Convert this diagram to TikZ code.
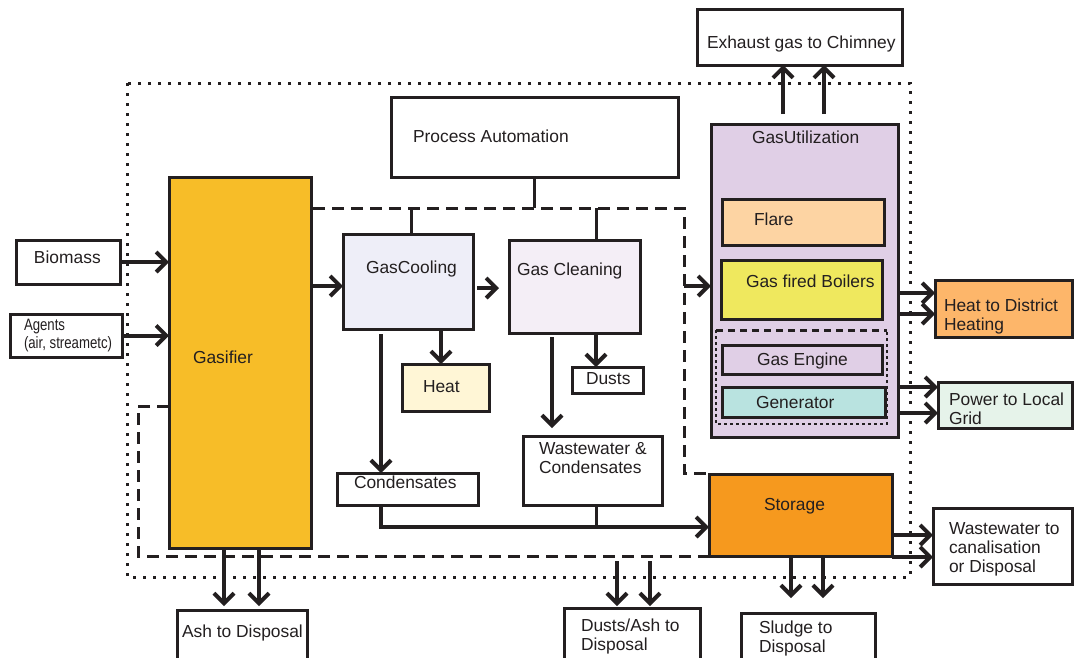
\documentclass[tikz,border=0pt]{standalone}
\usepackage{fontspec}
\setmainfont{Liberation Sans}
\newfontfamily\condfont[FakeStretch=0.8]{Liberation Sans}
\usetikzlibrary{arrows.meta,fit,calc}
\definecolor{ink}{HTML}{231F20}
\definecolor{cGasifier}{HTML}{F7BD28}
\definecolor{cCool}{HTML}{EEEEF8}
\definecolor{cClean}{HTML}{F4EEF6}
\definecolor{cHeat}{HTML}{FFF6D6}
\definecolor{cUtil}{HTML}{E0CFE6}
\definecolor{cFlare}{HTML}{FDD4A3}
\definecolor{cBoil}{HTML}{EFE85E}
\definecolor{cGen}{HTML}{B9E3E0}
\definecolor{cDH}{HTML}{FDB66A}
\definecolor{cPow}{HTML}{E6F3EA}
\definecolor{cStor}{HTML}{F6991E}
\begin{document}
\begin{tikzpicture}[x=1pt,y=-1pt,
  box/.style={draw=ink, line width=3pt, inner sep=0pt, outer sep=0pt},
  txt/.style={anchor=base west, inner sep=0pt, outer sep=0pt, text=ink, font=\fontsize{17.4}{19}\selectfont, align=left},
  arr/.style={draw=ink, line width=4pt, -{Straight Barb[length=10pt,width=20pt]}},
  conn/.style={draw=ink, line width=3pt},
  dashline/.style={draw=ink, line width=3pt, dash pattern=on 12pt off 7pt},
  dotline/.style={draw=ink, line width=3pt, dash pattern=on 3pt off 7pt},
  fineline/.style={draw=ink, line width=1.6pt, dash pattern=on 3pt off 3pt},
]
\useasboundingbox (0,0) rectangle (1080,657);
\clip (0,0) rectangle (1080,657);
\fill[white] (0,0) rectangle (1080,657);

% outer dotted boundary and inner dashed boundary
\draw[dotline] (127,83) rectangle (910,577);
\draw[dashline] (313,208) -- (684,208) -- (684,473) -- (709,473);
\draw[dashline] (169,406) -- (138,406) -- (138,556) -- (709,556);

% boxes
\node[box, fill=white, fit={(697,9) (902,65)}] (exhaust) {};
\node[box, fill=white, fit={(391,97) (678,177)}] (pa) {};
\node[box, fill=cGasifier, fit={(169,177) (311,548)}] (gasifier) {};
\node[box, fill=white, fit={(16,240) (120,284)}] (biomass) {};
\node[box, fill=white, fit={(10,314) (122,357)}] (agents) {};
\node[box, fill=cCool, fit={(343,234) (473,329)}] (gascool) {};
\node[box, fill=cClean, fit={(509,240) (640,333)}] (gasclean) {};
\node[box, fill=cHeat, fit={(402,364) (489,411)}] (heat) {};
\node[box, fill=white, fit={(572,367) (643,393)}] (dusts) {};
\node[box, fill=white, fit={(337,473) (478,505)}] (cond) {};
\node[box, fill=white, fit={(523,436) (662,505)}] (wwc) {};
\node[box, fill=cUtil, fit={(711,124) (898,437)}] (gasutil) {};
\node[box, fill=cFlare, fit={(722,199) (884,245)}] (flare) {};
\node[box, fill=cBoil, fit={(721,260) (882,319)}] (boilers) {};
\draw[fineline] (716,330) -- (716,424) -- (887,424) -- (887,330);
\draw[draw=ink, line width=3pt, dash pattern=on 7pt off 5pt] (716,330) -- (887,330);
\node[box, fill=cUtil, fit={(722,345) (882,374)}] (engine) {};
\node[box, fill=cGen, fit={(722,387) (885,417)}] (generator) {};
\node[box, fill=cDH, fit={(935,280) (1072,337)}] (district) {};
\node[box, fill=cPow, fit={(938,382) (1072,428)}] (power) {};
\node[box, fill=cStor, fit={(709,474) (892,556)}] (storage) {};
\node[box, fill=white, fit={(933,508) (1072,584)}] (wwcanal) {};
\node[box, fill=white, fit={(741,613) (875,680)}] (sludge) {};
\node[box, fill=white, fit={(564,608) (700,680)}] (dustash) {};
\node[box, fill=white, fit={(177,610) (307,680)}] (ash) {};

% free-end coordinates on the boundaries
\coordinate (dright) at (684,286);
\coordinate (dtop) at (0,208);
\coordinate (dbot) at (0,561);

% connectors
\draw[arr] (biomass.east) -- (biomass.east -| gasifier.west);
\draw[arr] (agents.east) -- (agents.east -| gasifier.west);
\draw[arr] (gasifier.east |- 0,286) -- (gascool.west |- 0,286);
\draw[arr] ($(gascool.east |- 0,288)+(4,0)$) -- ($(gasclean.west |- 0,288)+(-10,0)$);
\draw[arr] (dright) -- (gasutil.west |- dright);
\draw[conn] (pa.south) -- (pa.south |- dtop);
\draw[conn] (gascool.north -| 411,0) -- (dtop -| 411,0);
\draw[conn] (gasclean.north -| 596,0) -- (dtop -| 596,0);
\draw[arr] (gascool.south -| 441,0) -- (heat.north -| 441,0);
\draw[arr] (gasclean.south -| 596,0) -- (dusts.north -| 596,0);
\draw[arr] ($(gascool.south -| 381,0)+(0,5)$) -- (cond.north -| 381,0);
\draw[arr] ($(gasclean.south -| 552,0)+(0,4)$) -- ($(wwc.north -| 552,0)+(0,-8)$);
\draw[arr] (cond.south -| 381,0) -- (381,527) -- (storage.west |- 0,527);
\draw[conn] (wwc.south -| 596,0) -- (596,527);
\draw[arr] ($(gasutil.north -| 783,0)+(0,-10)$) -- (exhaust.south -| 783,0);
\draw[arr] ($(gasutil.north -| 824,0)+(0,-10)$) -- (exhaust.south -| 824,0);
\draw[arr] (gasutil.east |- 0,293) -- (district.west |- 0,293);
\draw[arr] (gasutil.east |- 0,314) -- (district.west |- 0,314);
\draw[arr] (gasutil.east |- 0,387) -- (power.west |- 0,387);
\draw[arr] (gasutil.east |- 0,413) -- (power.west |- 0,413);
\draw[arr] (storage.east |- 0,535) -- (wwcanal.west |- 0,535);
\draw[arr] (storage.east |- 0,557) -- (wwcanal.west |- 0,557);
\draw[arr] (storage.south -| 791,0) -- ($(sludge.north -| 791,0)+(0,-15)$);
\draw[arr] (storage.south -| 823,0) -- ($(sludge.north -| 823,0)+(0,-15)$);
\draw[arr] (gasifier.south -| 224,0) -- ($(ash.north -| 224,0)+(0,-4)$);
\draw[arr] (gasifier.south -| 259,0) -- ($(ash.north -| 259,0)+(0,-4)$);
\draw[arr] (dbot -| 617,0) -- ($(dustash.north -| 617,0)+(0,-2)$);
\draw[arr] (dbot -| 650,0) -- ($(dustash.north -| 650,0)+(0,-2)$);

% texts (multi-line nodes: base = baseline of last line)
\node[txt] (tExh) at (707,48) {Exhaust gas to Chimney};
\node[txt] (tPA) at (413,142) {Process Automation};
\node[txt] (tUtil) at (752,143) {GasUtilization};
\node[txt] (tFlare) at (754,225) {Flare};
\node[txt] (tBoil) at (746,287) {Gas fired Boilers};
\node[txt] (tEng) at (757,365) {Gas Engine};
\node[txt] (tGen) at (756,408) {Generator};
\node[txt] (tDH) at (944,330) {Heat to District\\Heating};
\node[txt] (tPow) at (949,424) {Power to Local\\Grid};
\node[txt] (tStor) at (764,510) {Storage};
\node[txt] (tWWcan) at (949,572) {Wastewater to\\canalisation\\or Disposal};
\node[txt] (tSl) at (759,652) {Sludge to\\Disposal};
\node[txt] (tDA) at (581,650) {Dusts/Ash to\\Disposal};
\node[txt] (tAsh) at (182,637) {Ash to Disposal};
\node[txt] (tCond) at (354,488) {Condensates};
\node[txt] (tWWC) at (539,473) {Wastewater \&\\Condensates};
\node[txt] (tHeat) at (423,392) {Heat};
\node[txt] (tDusts) at (586,384) {Dusts};
\node[txt] (tCool) at (366,273) {GasCooling};
\node[txt] (tClean) at (517,275) {Gas Cleaning};
\node[txt] (tBio) at (34,263) {Biomass};
\node[txt, font=\condfont\fontsize{16.5}{18}\selectfont] (tAg) at (24,348) {Agents\\(air, streametc)};
\node[txt] (tGas) at (193,363) {Gasifier};
\end{tikzpicture}
\end{document}
